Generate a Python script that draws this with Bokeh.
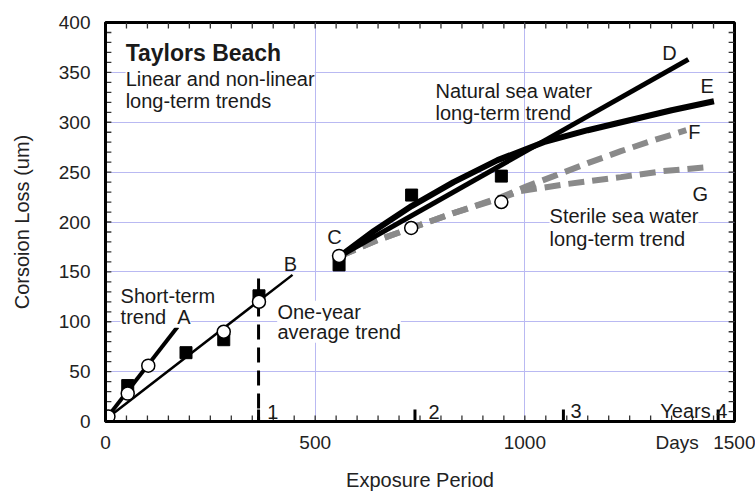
from bokeh.plotting import figure
from bokeh.models import Label, SingleIntervalTicker, FixedTicker, Range1d
from bokeh.embed import file_html
from bokeh.resources import INLINE

# ---- data ----
# measured points: filled squares = natural sea water, open circles = sterile sea water
nat_days = [2, 53, 192, 282, 366, 557, 730, 944]
nat_loss = [4, 36, 69, 82, 126, 157, 227, 246]
ster_days = [7, 53, 102, 282, 366, 557, 729, 944]
ster_loss = [5, 28, 56, 90, 120, 166, 194, 220]

# trend A (short-term) and B (one-year average)
a_days = [0, 172]
a_loss = [2, 95]
b_days = [0, 446]
b_loss = [2, 147]

# long-term trends from point C
d_days = [560, 1390]
d_loss = [166, 363]
e_days = [560, 640, 730, 830, 935, 1045, 1150, 1250, 1350, 1451]
e_loss = [166, 191, 216, 240, 262, 280, 292, 302, 312, 321]
f_days = [560, 650, 730, 830, 944, 1006, 1069, 1150, 1229, 1300, 1385]
f_loss = [166, 182, 194, 209, 225, 236, 246, 259, 271, 281, 292]
g_days = [560, 650, 730, 830, 944, 990, 1100, 1229, 1330, 1436]
g_loss = [166, 182, 194, 209, 224, 231, 238, 245, 251, 255]

# year markers on the day axis
year_days = [365, 738, 1092, 1461]
year_tick_height = 12
year_labels = ["1", "2", "3", "Years 4"]
year_label_days = [386, 770, 1109, 1483]
year_label_loss = [10, 10, 11, 11]
one_year_line = [-10, 145]

# axis ticks
day_ticks = [0, 500, 1000, 1363, 1500]
day_labels = {0: "0", 500: "500", 1000: "1000", 1363: "Days", 1500: "1500"}
day_minor = list(range(50, 1500, 50))
loss_minor = list(range(10, 400, 10))

FONT = "Liberation Sans"
TXT = "#1a1a1a"
X0, X1, Y0, Y1 = 0, 1500, 0, 400
TICK_DAYS = 14   # inward tick length on the loss axes (about 6 px)
TICK_LOSS = 6    # inward tick length on the day axes (about 6 px)

p = figure(width=755, height=493, output_backend="svg", toolbar_location=None,
           x_range=Range1d(X0, X1), y_range=Range1d(Y0, Y1),
           min_border_left=105, min_border_right=21, min_border_top=22, min_border_bottom=70)
p.background_fill_color = "white"
p.border_fill_color = "white"
p.outline_line_color = "black"
p.outline_line_width = 3

# axes
yax = p.yaxis[0]
yax.ticker = SingleIntervalTicker(interval=50, num_minor_ticks=5)
xax = p.xaxis[0]
xax.ticker = FixedTicker(ticks=day_ticks)
xax.major_label_overrides = day_labels
for ax in (xax, yax):
    ax.axis_line_width = 3
    ax.axis_line_color = "black"
    ax.major_tick_in = 0
    ax.major_tick_out = 0
    ax.minor_tick_in = 0
    ax.minor_tick_out = 0
    ax.major_label_text_font = FONT
    ax.major_label_text_font_size = "19px"
    ax.major_label_text_color = "#222222"
    ax.axis_label_text_font = FONT
    ax.axis_label_text_font_size = "20px"
    ax.axis_label_text_font_style = "normal"
    ax.axis_label_text_color = "#222222"
yax.axis_label = "Corsoion Loss (um)"
xax.axis_label = "Exposure Period"
yax.major_label_standoff = 15
xax.major_label_standoff = 10
yax.axis_label_standoff = 23
xax.axis_label_standoff = 13

# grids
p.xgrid.ticker = FixedTicker(ticks=[500, 1000])
p.ygrid.ticker = FixedTicker(ticks=list(range(50, 400, 50)))
p.xgrid.grid_line_color = "#b9b9f2"
p.ygrid.grid_line_color = "#b9b9f2"
p.xgrid.grid_line_width = 1
p.ygrid.grid_line_width = 1

# inward frame ticks
tk = dict(line_color="#333333", line_width=1.3)
n_l = len(loss_minor)
n_d = len(day_minor)
p.segment(x0=[X0] * n_l, y0=loss_minor, x1=[X0 + TICK_DAYS] * n_l, y1=loss_minor, **tk)
p.segment(x0=[X1] * n_l, y0=loss_minor, x1=[X1 - TICK_DAYS] * n_l, y1=loss_minor, **tk)
p.segment(x0=day_minor, y0=[Y0] * n_d, x1=day_minor, y1=[Y0 + TICK_LOSS] * n_d, **tk)
p.segment(x0=day_minor, y0=[Y1] * n_d, x1=day_minor, y1=[Y1 - TICK_LOSS] * n_d, **tk)

# year ticks and one-year dashed line
p.segment(x0=year_days, y0=[0] * len(year_days), x1=year_days,
          y1=[year_tick_height] * len(year_days), line_color="black", line_width=3)
p.line(x=[year_days[0], year_days[0]], y=one_year_line, line_color="black",
       line_width=3, line_dash="15 8")

# trend lines
p.line(a_days, a_loss, line_color="black", line_width=4)
p.line(b_days, b_loss, line_color="black", line_width=2.5)
p.line(f_days, f_loss, line_color="#8a8a8a", line_width=6, line_dash="16 8")
p.line(g_days, g_loss, line_color="#8a8a8a", line_width=6, line_dash="16 8")
p.line(d_days, d_loss, line_color="black", line_width=5)
p.line(e_days, e_loss, line_color="black", line_width=6)

# markers
p.scatter(nat_days, nat_loss, marker="square", size=12, fill_color="black", line_color="black")
p.scatter(ster_days, ster_loss, marker="circle", size=13, fill_color="white",
          line_color="black", line_width=1.5)


def lab(x, y, text, size="20px", style="normal", align="left", bg=None):
    l = Label(x=x, y=y, text=text, text_font=FONT, text_font_size=size,
              text_font_style=style, text_color=TXT, text_align=align,
              text_baseline="alphabetic", background_fill_color=bg)
    p.add_layout(l)


lab(48, 369, "Taylors Beach", size="23px", style="bold")
lab(48, 343, "Linear and non-linear", bg="white")
lab(48, 321, "long-term trends", bg="white")
lab(787, 331, "Natural sea water")
lab(787, 309, "long-term trend")
lab(1328, 369, "D")
lab(1419, 336, "E")
lab(1390, 290, "F")
lab(1400, 228, "G")
lab(1059, 206, "Sterile sea water", bg="white")
lab(1059, 183, "long-term trend", bg="white")
lab(529, 185, "C")
lab(425, 158, "B")
lab(36, 126, "Short-term", bg="white")
lab(36, 105, "trend\u00a0\u00a0A", bg="white")
lab(410, 110, "One-year", bg="white")
lab(410, 90, "average trend", bg="white")
for xd, yv, t in zip(year_label_days, year_label_loss, year_labels):
    lab(xd, yv, t, align="right" if t.startswith("Years") else "left")

open("out.html", "w").write(file_html(p, INLINE))
